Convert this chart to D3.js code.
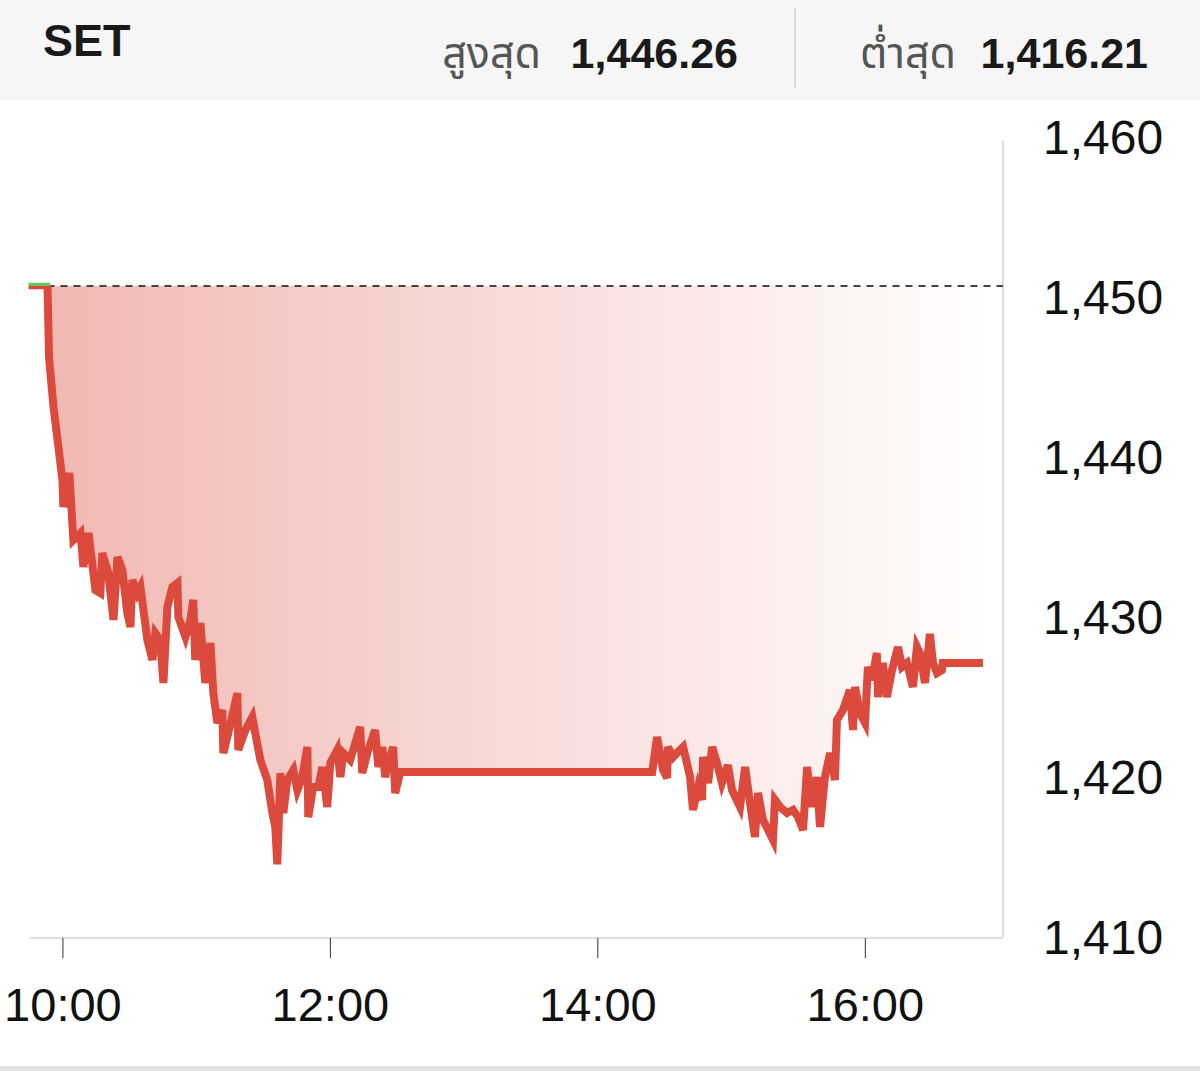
<!DOCTYPE html>
<html>
<head>
<meta charset="utf-8">
<script src="https://cdn.jsdelivr.net/npm/d3@7"></script>
<style>
  html, body { margin: 0; padding: 0; background: #ffffff; }
  svg { display: block; }
</style>
</head>
<body>
<svg id="chart" width="1200" height="1071"></svg>
<script>
// ---- data ----
const indexName = "SET";
const highLabel = "สูงสุด";
const lowLabel = "ต่ำสุด";
const highValue = 1446.26;
const lowValue = 1416.21;
const prevClose = 1450.75;
const sessionStart = "09:45";
const sessionEnd = "17:02";
const yTicks = [1410, 1420, 1430, 1440, 1450, 1460];
const xTickHours = [10, 12, 14, 16];

// minutes after 10:00 (negative = before 10:00)
const minuteOffsets = [
  -15.2, -6.7, -6.0, -4.0, -1.8, 0.0, 0.4, 3.1, 4.9, 8.1, 9.4, 11.7, 14.8, 17.0, 17.9, 20.6,
  22.9, 24.7, 26.9, 29.1, 30.5, 31.4, 33.6, 35.0, 38.1, 40.4, 41.7, 43.9, 45.3, 47.1, 49.3,
  51.6, 52.0, 55.2, 57.4, 58.7, 59.6, 61.9, 64.1, 66.4, 67.7, 69.5, 71.7, 72.2, 74.4, 78.5,
  78.9, 82.1, 85.2, 86.5, 88.8, 91.9, 94.2, 95.5, 96.4, 97.8, 99.1, 100.9, 103.6, 105.4,
  107.6, 109.9, 110.3, 112.5, 114.8, 116.6, 118.8, 120.2, 123.3, 124.7, 126.0, 129.1, 133.6,
  134.5, 136.8, 140.3, 141.7, 143.5, 144.8, 146.2, 148.4, 149.3, 151.6,
  264.6, 266.8, 269.5, 271.3, 271.7, 274.0, 276.2, 278.5, 281.6, 282.9, 285.2, 287.0, 287.4,
  289.7, 291.5, 293.7, 295.9, 298.6, 300.4, 304.0, 306.3, 308.5, 310.7, 312.1, 314.3, 316.6,
  318.8, 319.7, 322.0, 325.1, 327.8, 330.0, 332.3, 334.1, 336.3, 338.5, 339.9, 342.1, 344.4,
  346.6, 347.5, 350.2, 353.3, 354.7, 355.6, 357.8, 360.1, 361.4, 363.2, 365.4, 365.9, 368.1,
  369.9, 372.2, 374.9, 376.7, 378.9, 381.6, 383.4, 384.7, 387.0, 389.2, 390.6, 392.4, 394.6,
  395.0, 413.0
];
const values = [
  1450.80, 1450.80, 1446.26, 1443.19, 1440.69, 1438.63, 1436.94, 1439.06, 1434.87, 1435.31,
  1433.19, 1435.31, 1431.75, 1431.56, 1434.06, 1432.81, 1429.88, 1433.81, 1433.00, 1430.31,
  1429.44, 1432.38, 1431.56, 1431.94, 1428.63, 1427.38, 1429.06, 1428.63, 1425.94, 1430.69,
  1431.94, 1432.19, 1430.06, 1428.81, 1429.88, 1431.13, 1427.38, 1429.69, 1425.94, 1428.44,
  1425.31, 1423.44, 1424.25, 1421.56, 1422.81, 1425.31, 1421.75, 1423.00, 1423.81, 1422.81,
  1421.13, 1419.88, 1417.81, 1416.94, 1414.60, 1420.31, 1417.81, 1419.88, 1420.50, 1419.25,
  1420.06, 1421.94, 1417.56, 1419.44, 1419.44, 1420.69, 1418.19, 1420.94, 1421.75, 1420.06,
  1421.56, 1421.13, 1423.19, 1420.31, 1421.56, 1423.00, 1420.69, 1421.94, 1420.06, 1420.94,
  1421.94, 1419.06, 1420.38,
  1420.38, 1422.56, 1420.50, 1420.00, 1421.94, 1421.31, 1421.63, 1421.94, 1420.06, 1418.00,
  1419.44, 1418.63, 1421.31, 1419.69, 1421.94, 1420.94, 1419.69, 1420.81, 1419.25, 1418.19,
  1420.69, 1418.44, 1416.31, 1419.06, 1417.38, 1416.75, 1416.13, 1418.63, 1418.19, 1417.81,
  1418.00, 1417.56, 1416.75, 1420.69, 1418.19, 1420.06, 1416.94, 1420.06, 1421.56, 1419.88,
  1423.63, 1424.25, 1425.50, 1423.00, 1425.69, 1424.06, 1423.44, 1426.94, 1426.13, 1427.81,
  1425.06, 1427.19, 1425.06, 1426.75, 1428.19, 1426.94, 1427.19, 1425.69, 1428.19, 1427.81,
  1425.94, 1429.00, 1427.19, 1426.56, 1426.75, 1427.19, 1427.19
];

// ---- setup ----
const baseDay = new Date(2024, 0, 2, 10, 0, 0);
const parseHM = s => { const [h, m] = s.split(":").map(Number); return new Date(2024, 0, 2, h, m, 0); };
const data = minuteOffsets.map((m, i) => ({ t: new Date(baseDay.getTime() + m * 60000), v: values[i] }));

const svg = d3.select("#chart");
const numFont = "'Liberation Sans', Arial, Helvetica, sans-serif";
const thaiFont = "'Noto Sans Thai', 'Noto Sans Thai Looped', 'Noto Sans', 'DejaVu Sans', sans-serif";

// header
svg.append("rect").attr("x", 0).attr("y", 0).attr("width", 1200).attr("height", 100).attr("fill", "#f6f6f6");
svg.append("text").attr("x", 43).attr("y", 56).text(indexName)
  .attr("font-family", numFont).attr("font-weight", "bold").attr("font-size", 45).attr("fill", "#1a1a1a");
svg.append("text").attr("x", 541).attr("y", 68).attr("text-anchor", "end").text(highLabel)
  .attr("font-family", thaiFont).attr("font-size", 43).attr("fill", "#555");
svg.append("text").attr("x", 738).attr("y", 68).attr("text-anchor", "end").text(d3.format(",.2f")(highValue))
  .attr("font-family", numFont).attr("font-weight", "bold").attr("font-size", 43).attr("fill", "#1a1a1a");
svg.append("line").attr("x1", 795).attr("x2", 795).attr("y1", 8).attr("y2", 88)
  .attr("stroke", "#dcdcdc").attr("stroke-width", 2);
svg.append("text").attr("x", 956).attr("y", 68).attr("text-anchor", "end").text(lowLabel)
  .attr("font-family", thaiFont).attr("font-size", 43).attr("fill", "#555");
svg.append("text").attr("x", 1148).attr("y", 68).attr("text-anchor", "end").text(d3.format(",.2f")(lowValue))
  .attr("font-family", numFont).attr("font-weight", "bold").attr("font-size", 43).attr("fill", "#1a1a1a");

// bottom strip
svg.append("rect").attr("x", 0).attr("y", 1066).attr("width", 1200).attr("height", 5).attr("fill", "#e2e2e2");

// scales
const plotLeft = 29, plotRight = 1003, plotTop = 138, plotBottom = 938;
const x = d3.scaleTime().domain([parseHM(sessionStart), parseHM(sessionEnd)]).range([plotLeft, plotRight]);
const y = d3.scaleLinear().domain([yTicks[0], yTicks[yTicks.length - 1]]).range([plotBottom, plotTop]);

// frame
svg.append("line").attr("x1", plotRight).attr("x2", plotRight).attr("y1", 140).attr("y2", plotBottom)
  .attr("stroke", "#e0e0e0").attr("stroke-width", 2);
svg.append("line").attr("x1", 30).attr("x2", plotRight).attr("y1", plotBottom).attr("y2", plotBottom)
  .attr("stroke", "#e0e0e0").attr("stroke-width", 2);

// gradient
const defs = svg.append("defs");
const grad = defs.append("linearGradient").attr("id", "fillGrad")
  .attr("gradientUnits", "userSpaceOnUse").attr("x1", plotLeft).attr("x2", plotRight).attr("y1", 0).attr("y2", 0);
grad.append("stop").attr("offset", "0%").attr("stop-color", "#dc4a3d").attr("stop-opacity", 0.4);
grad.append("stop").attr("offset", "55%").attr("stop-color", "#dc4a3d").attr("stop-opacity", 0.18);
grad.append("stop").attr("offset", "100%").attr("stop-color", "#dc4a3d").attr("stop-opacity", 0.0);

const yBase = y(prevClose);
defs.append("clipPath").attr("id", "clipAbove").append("rect")
  .attr("x", 0).attr("y", 0).attr("width", 1200).attr("height", yBase);
defs.append("clipPath").attr("id", "clipBelow").append("rect")
  .attr("x", 0).attr("y", yBase).attr("width", 1200).attr("height", 1071 - yBase);

const area = d3.area().x(d => x(d.t)).y0(yBase).y1(d => y(d.v));
svg.append("path").datum(data).attr("d", area).attr("fill", "url(#fillGrad)");

// prev close dashed line
svg.append("line").attr("x1", x(data[1].t)).attr("x2", plotRight).attr("y1", yBase).attr("y2", yBase)
  .attr("stroke", "#444").attr("stroke-width", 2).attr("stroke-dasharray", "7,6");

const line = d3.line().x(d => x(d.t)).y(d => y(d.v));
svg.append("path").datum(data).attr("d", line).attr("fill", "none")
  .attr("stroke", "#6cc35a").attr("stroke-width", 5).attr("clip-path", "url(#clipAbove)");
svg.append("path").datum(data).attr("d", line).attr("fill", "none")
  .attr("stroke", "#dc4a3d").attr("stroke-width", 8).attr("stroke-linejoin", "miter")
  .attr("clip-path", "url(#clipBelow)");

// x axis
const xAxis = d3.axisBottom(x)
  .tickValues(xTickHours.map(h => new Date(2024, 0, 2, h, 0, 0)))
  .tickFormat(d3.timeFormat("%H:%M")).tickSize(20).tickPadding(30);
const gx = svg.append("g").attr("transform", `translate(0,${plotBottom})`).call(xAxis);
gx.select(".domain").remove();
gx.selectAll(".tick line").attr("stroke", "#333").attr("stroke-width", 1);
gx.selectAll(".tick text").attr("font-family", numFont).attr("font-size", 47).attr("fill", "#111");

// y axis
const yAxis = d3.axisRight(y).tickValues(yTicks).tickFormat(d3.format(",")).tickSize(0).tickPadding(40);
const gy = svg.append("g").attr("transform", `translate(${plotRight},0)`).call(yAxis);
gy.select(".domain").remove();
gy.selectAll(".tick text").attr("font-family", numFont).attr("font-size", 48).attr("fill", "#111");
</script>
</body>
</html>
